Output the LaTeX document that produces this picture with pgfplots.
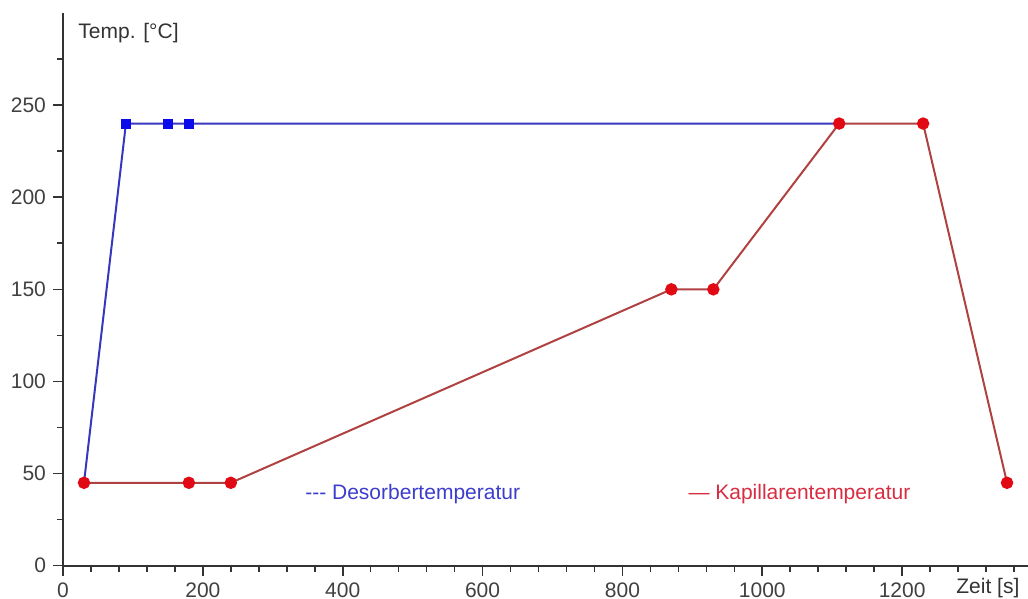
\documentclass[border=0pt]{standalone}
\usepackage{pgfplots}
\pgfplotsset{compat=1.18}
\usepackage{fontspec}
\setmainfont{Liberation Sans}

\definecolor{desline}{RGB}{55,55,190}
\definecolor{desmark}{RGB}{10,10,235}
\definecolor{kapline}{RGB}{175,65,65}
\definecolor{kapmark}{RGB}{225,10,20}
\definecolor{destext}{RGB}{60,60,205}
\definecolor{kaptext}{RGB}{215,45,65}

\begin{document}
\begin{tikzpicture}[x=0.5pt,y=0.5pt,font=\fontsize{10.5}{12}\selectfont]
\useasboundingbox (-63,-33.3) rectangle (965,565.7);
\begin{axis}[
  at={(0pt,0pt)}, anchor=south west,
  scale only axis,
  width=482.5pt, height=276.35pt,
  xmin=0, xmax=1380, ymin=0, ymax=300,
  axis x line=bottom, axis y line=left,
  axis line style={-, line width=0.9pt, black!80},
  xtick={0,200,...,1200},
  ytick={0,50,...,250},
  minor xtick={40,80,...,1360},
  minor ytick={25,75,...,275},
  tick style={black!80, line width=0.8pt},
  major tick length=5pt, minor tick length=3pt,
  tick align=outside,
  /pgf/number format/assume math mode=true,
  /pgf/number format/1000 sep={},
  ticklabel style={text=black!75},
  clip=false,
]
% Desorber temperature profile
\addplot[desline, line width=1pt, mark=none] coordinates {
  (30,45) (90,240) (150,240) (180,240) (1110,240)
};
\addplot[only marks, mark=square*, mark size=2.2pt, desmark] coordinates {
  (90,240) (150,240) (180,240)
};
% Capillary temperature profile
\addplot[kapline, line width=1pt, mark=*, mark size=2.6pt,
  mark options={kapmark, draw=kapmark}] coordinates {
  (30,45) (180,45) (240,45) (870,150) (930,150) (1110,240) (1230,240) (1350,45)
};
% axis labels and series names
\node[anchor=west, text=black!80] at (axis cs:12,289) {Temp. [°C]};
\node[anchor=north west, text=black!80, inner sep=0pt] at (axis cs:1277,-6.5) {Zeit [s]};
\node[anchor=west, text=destext, inner sep=0pt] at (axis cs:346,39) {-{}-{}- Desorbertemperatur};
\node[anchor=west, text=kaptext, inner sep=0pt] at (axis cs:894,39) {— Kapillarentemperatur};
\end{axis}
\end{tikzpicture}
\end{document}
